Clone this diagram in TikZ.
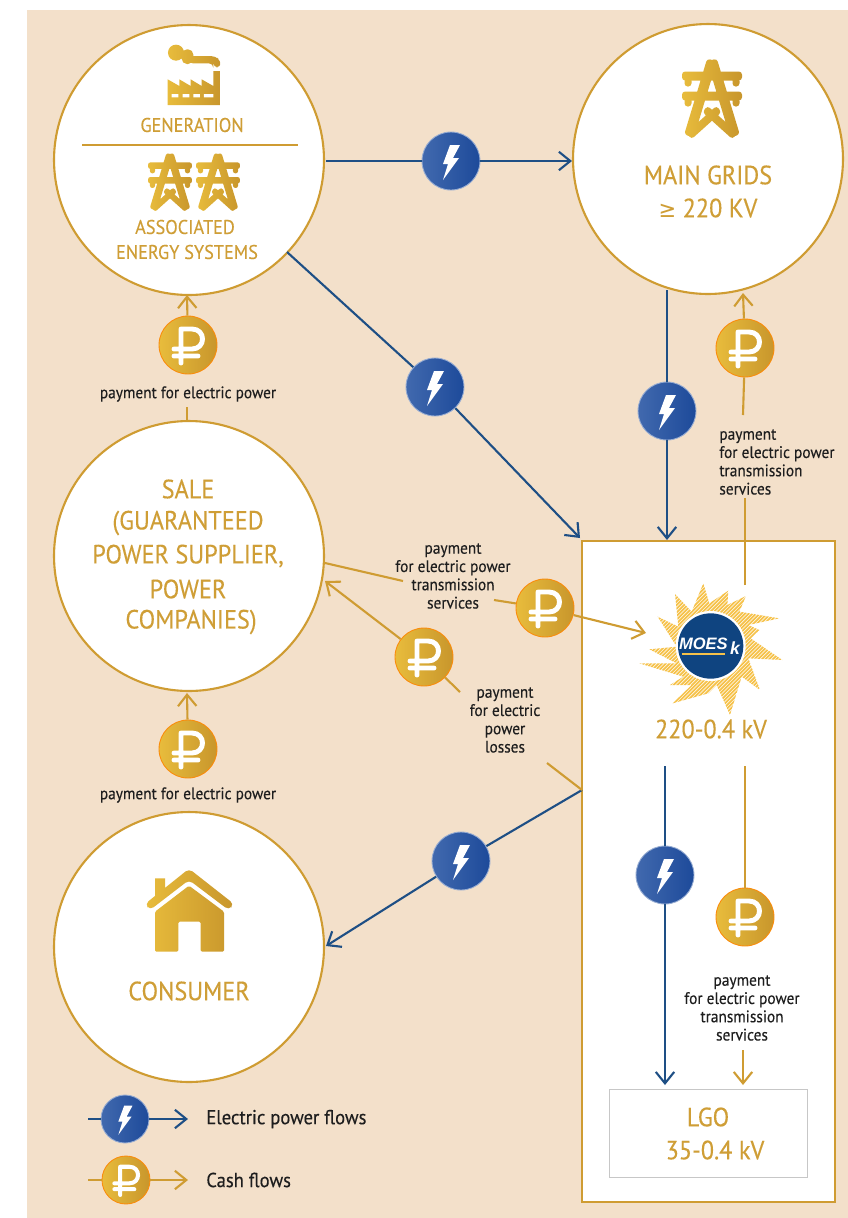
\documentclass[tikz,border=0pt]{standalone}
\usepackage{fontspec}
\setmainfont{PT Sans}
\newfontfamily\condfont[FakeStretch=0.92,FakeBold=0.25]{PT Sans}
\newfontfamily\moesf{Liberation Sans}
\newfontfamily\symf[FakeStretch=0.92]{DejaVu Sans}
\usetikzlibrary{arrows.meta}
\definecolor{bgc}{HTML}{F3E0CA}
\definecolor{goldl}{HTML}{CF9C32}
\definecolor{goldt}{HTML}{CF9E36}
\definecolor{bluel}{HTML}{1E4F85}
\definecolor{gA}{HTML}{E8BC3C}
\definecolor{gB}{HTML}{C8962C}
\definecolor{bA}{HTML}{4169AE}
\definecolor{bB}{HTML}{1D4A9A}
\definecolor{moesb}{HTML}{0F4480}
\definecolor{rayc}{HTML}{F6C24A}
\definecolor{txt}{HTML}{1E1E1E}
\newcommand\pylonshape[3]{%
  \begin{scope}[shift={(#1,#2)},scale=#3]
    \shade[left color=gA,right color=gB,rounded corners={#3*1.8pt}]
      (-4.8,-1.5) -- (4.8,1.5) -- (-18.2,77.5) -- (-27.8,74.5) -- cycle
      (4.8,-1.5) -- (27.8,74.5) -- (18.2,77.5) -- (-4.8,1.5) -- cycle
      (-25.5,72.8) -- (4.5,45.8) -- (9.5,52.2) -- (-20.5,79.2) -- cycle
      (-4.5,45.8) -- (25.5,72.8) -- (20.5,79.2) -- (-9.5,52.2) -- cycle
      (-30,11.5) -- (30,11.5) -- (30,20.5) -- (-30,20.5) -- cycle
      (-30,31.5) -- (30,31.5) -- (30,40.5) -- (-30,40.5) -- cycle
      (-27.5,18) -- (-20.5,18) -- (-20.5,26.5) -- (-27.5,26.5) -- cycle
      (20.5,18) -- (27.5,18) -- (27.5,26.5) -- (20.5,26.5) -- cycle
      (-27.5,38) -- (-20.5,38) -- (-20.5,46.5) -- (-27.5,46.5) -- cycle
      (20.5,38) -- (27.5,38) -- (27.5,46.5) -- (20.5,46.5) -- cycle;
  \end{scope}}
\tikzset{
  bigc/.style={circle,draw=goldl,fill=white,line width=1.2pt,minimum size=5.4cm,inner sep=0pt},
  flowb/.style={circle,minimum size=1.16cm,inner sep=0pt,left color=bA,right color=bB,draw=bA!55!white,line width=.5pt},
  cashb/.style={circle,minimum size=1.16cm,inner sep=0pt,left color=gA,right color=gB,draw=orange!80!gA,line width=.5pt},
  flowbs/.style={flowb,minimum size=.96cm},
  cashbs/.style={cashb,minimum size=.96cm},
  blueln/.style={draw=bluel,line width=1.2pt},
  goldln/.style={draw=goldl,line width=1.2pt},
  arr/.style={-{Straight Barb[length=6.5pt,width=10.5pt,line width=1.2pt]}},
  small/.style={text=txt,font=\fontsize{9.5}{10.4}\selectfont\condfont,align=center,inner sep=0pt},
  legt/.style={text=txt,font=\fontsize{11.5}{12}\selectfont\condfont,anchor=west,inner sep=0pt},
  big/.style={text=goldt,font=\fontsize{15}{15}\selectfont\condfont,inner sep=0pt},
  med/.style={text=goldt,font=\fontsize{11.3}{12}\selectfont\condfont,inner sep=0pt},
  pics/bolt/.style={code={\fill[white] (-1,-16) -- (9,-16) -- (2,-3) -- (8,-3) -- (-8,19) -- (-3,3) -- (-8,3) -- cycle;}},
  pics/rouble/.style={code={\draw[white,line width=#1,line cap=round,line join=round]
     (-7,18) -- (-7,-16) -- (4,-16) .. controls (18,-16) and (18,4) .. (4,4) -- (-14,4) (-14,11) -- (10,11);}},
}
\begin{document}
\begin{tikzpicture}[x=0.02cm,y=-0.02cm]
\useasboundingbox (0,0) rectangle (848,1218);
\fill[white] (0,0) rectangle (848,1218);
\fill[bgc] (27,10) rectangle (848,1218);

% big nodes
\node[bigc] (gen) at (189,160) {};
\node[bigc] (main) at (708,159) {};
\node[bigc] (sale) at (189,556) {};
\node[bigc] (cons) at (189,947) {};
\node[draw=goldl,fill=white,line width=1.4pt,minimum width=5.06cm,minimum height=13.22cm,inner sep=0pt] (box) at (708.5,871.5) {};
\node[draw=black!22,fill=white,line width=.45pt,minimum width=3.96cm,minimum height=1.76cm,inner sep=0pt] (lgo) at (708,1133) {};

% badges
\node[flowb] (f1) at (451,161) {};
\node[flowb] (f2) at (435,387) {};
\node[flowb] (f3) at (667,411) {};
\node[flowb] (f4) at (461,861) {};
\node[flowb] (f5) at (665,875) {};
\node[cashb] (c1) at (188,345) {};
\node[cashb] (c2) at (745,348) {};
\node[cashb] (c3) at (545,608) {};
\node[cashb] (c4) at (424,657) {};
\node[cashb] (c5) at (188,749) {};
\node[cashb] (c6) at (745,917) {};
\node[flowbs] (lf) at (125,1119) {};
\node[cashbs] (lc) at (126,1180) {};
\foreach \n in {f1,f2,f3,f4,f5} \pic at (\n) {bolt};
\foreach \n in {c1,c2,c3,c4,c5,c6} \pic at (\n) {rouble=2.8pt};
\pic[scale=.83] at (lf) {bolt};
\pic[scale=.83] at (lc) {rouble=2.3pt};

% labels
\node[small] (l1) at (188,394) {payment for electric power};
\node[small] (l2) at (188,795) {payment for electric power};
\node[small] (l3) at (453,576) {payment\\for electric power\\transmission\\services};
\node[small] (l4) at (505,720) {payment\\for electric\\power\\losses};
\node[small,align=left,anchor=west] (l5) at (719,462) {payment\\for electric power\\transmission\\services};
\node[small] (l6) at (742,1008) {payment\\for electric power\\transmission\\services};

% free ends
\coordinate (t1) at (580,538);
\coordinate (t2) at (667,540);
\coordinate (t3) at (745,585);
\coordinate (t3a) at (745,498);
\coordinate (t3b) at (743,415);
\coordinate (t3c) at (743,293);
\coordinate (s1a) at (325,563);
\coordinate (s1b) at (403,581);
\coordinate (s2a) at (494,600);
\coordinate (s2b) at (646,633);
\coordinate (p1) at (460,692);
\coordinate (p2) at (325,581);
\coordinate (p3) at (547,763);
\coordinate (p4) at (582,790);
\coordinate (e1) at (326,946);
\coordinate (d1) at (665,766);
\coordinate (d2) at (665,1085);
\coordinate (d3) at (745,766);
\coordinate (d4) at (743,1050);
\coordinate (d5) at (743,1085);
\coordinate (u1) at (187,420);
\coordinate (u2) at (187,407);
\coordinate (u4) at (187,295);
\coordinate (u5) at (187,693);
\coordinate (g0) at (326,161);
\coordinate (g1) at (572,161);
\coordinate (g2) at (287,252);
\coordinate (g3) at (667,290);
\coordinate (a1) at (88,1119);
\coordinate (a2) at (188,1119);
\coordinate (a3) at (88,1180);
\coordinate (a4) at (188,1180);

% blue connectors
\draw[blueln] (g0) -- (f1);
\draw[blueln,arr] (f1) -- (g1);
\draw[blueln] (g2) -- (f2);
\draw[blueln,arr] (f2) -- (t1);
\draw[blueln] (g3) -- (f3);
\draw[blueln,arr] (f3) -- (t2);
\draw[blueln] (p4) -- (f4);
\draw[blueln,arr] (f4) -- (e1);
\draw[blueln] (d1) -- (f5);
\draw[blueln,arr] (f5) -- (d2);
\draw[blueln] (a1) -- (lf);
\draw[blueln,arr] (lf) -- (a2);

% gold connectors
\draw[goldln] (u1) -- (u2);
\draw[goldln,arr] (c1) -- (u4);
\draw[goldln,arr] (c5) -- (u5);
\draw[goldln] (t3) -- (t3a);
\draw[goldln] (t3b) -- (c2);
\draw[goldln,arr] (c2) -- (t3c);
\draw[goldln] (s1a) -- (s1b);
\draw[goldln] (s2a) -- (c3);
\draw[goldln,arr] (c3) -- (s2b);
\draw[goldln] (p1) -- (c4);
\draw[goldln,arr] (c4) -- (p2);
\draw[goldln] (p3) -- (p4);
\draw[goldln] (d3) -- (c6);
\draw[goldln,arr] (d4) -- (d5);
\draw[goldln] (a3) -- (lc);
\draw[goldln,arr] (lc) -- (a4);
\draw[goldln] (82,145) -- (298,145);

% circle texts
\node[med] at (192,125) {GENERATION};
\node[med] at (185,227) {ASSOCIATED};
\node[med] at (187,252) {ENERGY SYSTEMS};
\node[big] at (708,175) {MAIN GRIDS};
\node[big] at (708,208) {{\symf\fontsize{13}{15}\selectfont ≥} 220 KV};
\node[big] at (188,489) {SALE};
\node[big] at (188,523) {(GUARANTEED};
\node[big] at (188,556) {POWER SUPPLIER,};
\node[big] at (188,589) {POWER};
\node[big] at (191,622) {COMPANIES)};
\node[big] at (189,991) {CONSUMER};
\node[big] at (711,729) {220-0.4 kV};
\node[big] at (708,1117) {LGO};
\node[big] at (715,1150) {35-0.4 kV};
\node[legt] at (206,1119) {Electric power flows};
\node[legt] at (206,1180) {Cash flows};

% factory icon
\begin{scope}[shift={(50,20)},scale=1/3]
  \shade[left color=gA,right color=gB]
    (353,178) -- (388,198) -- (388,178) -- (422,198) -- (422,178) -- (455,198) -- (455,178) -- (490,198) -- (490,153) -- (512,153) -- (512,255) -- (353,255) -- cycle
    [rounded corners=4.5pt]
    (354,74) -- (402,74) -- (402,122) -- (354,122) -- cycle
    [rounded corners=3pt]
    (395,88) -- (430,88) -- (430,132) -- (395,132) -- cycle
    [rounded corners=2.5pt]
    (415,108) -- (495,108) -- (512,122) -- (512,142) -- (490,142) -- (490,130) -- (415,130) -- cycle;
  \fill[white] (365,222) rectangle (385,232) (398,222) rectangle (418,232) (430,222) rectangle (450,232) (462,222) rectangle (490,232);
\end{scope}

% pylons
\pylonshape{712}{60}{1}
\pylonshape{170}{154}{.73}
\pylonshape{218}{154}{.73}

% house icon
\begin{scope}[shift={(120,850)},scale=1/3]
  \shade[left color=gA,right color=gB]
    (105,85) -- (135,85) -- (135,125) -- (105,150) -- cycle
    [rounded corners=2.5pt]
    (75,162) -- (207,56) -- (342,162) -- (326,180) -- (207,90) -- (90,180) -- cycle
    [rounded corners=.8pt]
    (105,185) -- (207,107) -- (312,185) -- (312,305) -- (242,305) -- (242,215) -- (175,215) -- (175,305) -- (105,305) -- cycle;
\end{scope}

% logo
\begin{scope}[shift={(620,570)},scale=1/3]
  \begin{scope}
    \clip (250,40) -- (268,100) -- (325,62) -- (322,105) -- (378,78) -- (358,125) -- (478,145) -- (385,165) -- (418,180) -- (392,205) -- (487,270) -- (385,265) -- (420,360) -- (365,320) -- (330,435) -- (290,345) -- (265,370) -- (158,400) -- (215,345) -- (150,345) -- (190,320) -- (58,280) -- (170,280) -- (88,238) -- (170,230) -- (113,140) -- (175,170) -- (165,72) -- (215,125) -- cycle;
    \foreach \k in {220,231,...,780} \draw[rayc,line width=1pt] (0,\k) -- (\k,0);
  \end{scope}
  \fill[white] (272,228) circle (105);
  \fill[moesb] (272,228) circle (98);
  \node[text=white,font=\moesf\bfseries\itshape\fontsize{9.4}{10}\selectfont,inner sep=0pt] (moes) at (250,222) {MOES};
  \node[text=white,font=\moesf\bfseries\itshape\fontsize{10}{9}\selectfont,inner sep=0pt] (moesk) at (345,235) {k};
  \draw[rayc,line width=1pt] (185,252) -- (315,252);
\end{scope}
\end{tikzpicture}
\end{document}
